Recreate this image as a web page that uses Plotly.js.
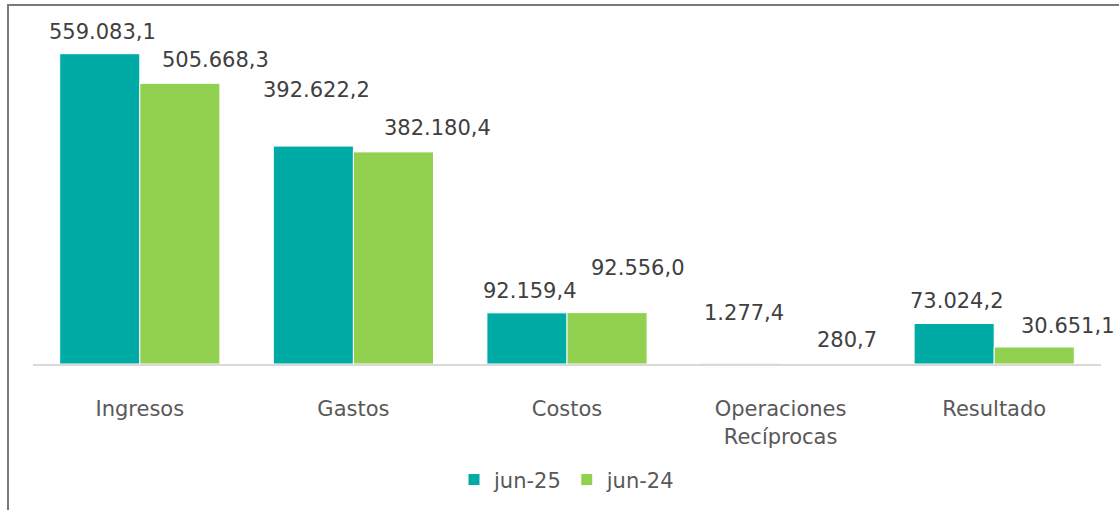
<!DOCTYPE html>
<html>
<head>
<meta charset="utf-8">
<script src="https://cdn.plot.ly/plotly-3.0.1.min.js"></script>
<style>
  html, body { margin: 0; padding: 0; background: #fff; }
  #wrap { position: relative; width: 1119px; height: 510px; }
  #chart { position: absolute; left: 0; top: 0; width: 1119px; height: 510px; }
  #frame { position: absolute; left: 7px; top: 4px; width: 1112px; height: 506px;
           border-top: 2px solid #7a7a7a; border-left: 2px solid #7a7a7a; pointer-events: none; box-sizing: border-box; }
</style>
</head>
<body>
<div id="wrap">
  <div id="chart"></div>
  <div id="frame"></div>
</div>
<script>
// ---- data ----
const categories = ["Ingresos", "Gastos", "Costos", "Operaciones<br>Recíprocas", "Resultado"];
const seriesNames = ["jun-25", "jun-24"];
const jun25 = [559083.1, 392622.2, 92159.4, 1277.4, 73024.2];
const jun24 = [505668.3, 382180.4, 92556.0, 280.7, 30651.1];

// ---- label placement tweaks (pixel offsets from category centre / bar top) ----
const dx25 = [-37, -37, -37, -37, -37];
const dx24 = [76, 84, 71, 66, 74];
const dy25 = [22, 56, 22, 50, 22];
const dy24 = [23, 24, 45, 24, 21];

const colors = ["#00ABA6", "#92D050"];

function fmt(v) {
  const parts = v.toFixed(1).split(".");
  const intPart = parts[0].replace(/\B(?=(\d{3})+(?!\d))/g, ".");
  return intPart + "," + parts[1];
}

const traces = [
  { type: "bar", name: seriesNames[0], x: categories, y: jun25,
    marker: { color: colors[0], line: { color: "#ffffff", width: 1 } }, hoverinfo: "none" },
  { type: "bar", name: seriesNames[1], x: categories, y: jun24,
    marker: { color: colors[1], line: { color: "#ffffff", width: 1 } }, hoverinfo: "none" }
];

const annotations = [];
categories.forEach((c, i) => {
  annotations.push({ x: c, y: jun25[i], xref: "x", yref: "y", text: fmt(jun25[i]),
    showarrow: false, xshift: dx25[i], yshift: dy25[i], xanchor: "center", yanchor: "middle",
    font: { family: "DejaVu Sans, Verdana, sans-serif", size: 21, color: "#404040" } });
  annotations.push({ x: c, y: jun24[i], xref: "x", yref: "y", text: fmt(jun24[i]),
    showarrow: false, xshift: dx24[i], yshift: dy24[i], xanchor: "center", yanchor: "middle",
    font: { family: "DejaVu Sans, Verdana, sans-serif", size: 21, color: "#404040" } });
});

const layout = {
  width: 1119, height: 510,
  margin: { l: 33, r: 18, t: 31, b: 146 },
  paper_bgcolor: "rgba(0,0,0,0)", plot_bgcolor: "rgba(0,0,0,0)",
  barmode: "group", bargap: 0.25, bargroupgap: 0,
  font: { family: "DejaVu Sans, Verdana, sans-serif", size: 21, color: "#595959" },
  xaxis: { type: "category", autorange: false, range: [-0.5, categories.length - 0.5],
           showline: true, linecolor: "#d9d9d9", linewidth: 2, ticks: "", showgrid: false,
           zeroline: false, ticklabelstandoff: 25, tickfont: { size: 21, color: "#595959" } },
  yaxis: { range: [0, 600000], autorange: false, visible: false, showgrid: false, zeroline: false },
  showlegend: true,
  legend: { orientation: "h", x: 0.5, xanchor: "center", yref: "container", y: 0.059, yanchor: "middle",
            font: { size: 21, color: "#595959" }, itemwidth: 30, tracegroupgap: 0 },
  annotations: annotations
};

Plotly.newPlot("chart", traces, layout, { displayModeBar: false, staticPlot: true });
</script>
</body>
</html>
